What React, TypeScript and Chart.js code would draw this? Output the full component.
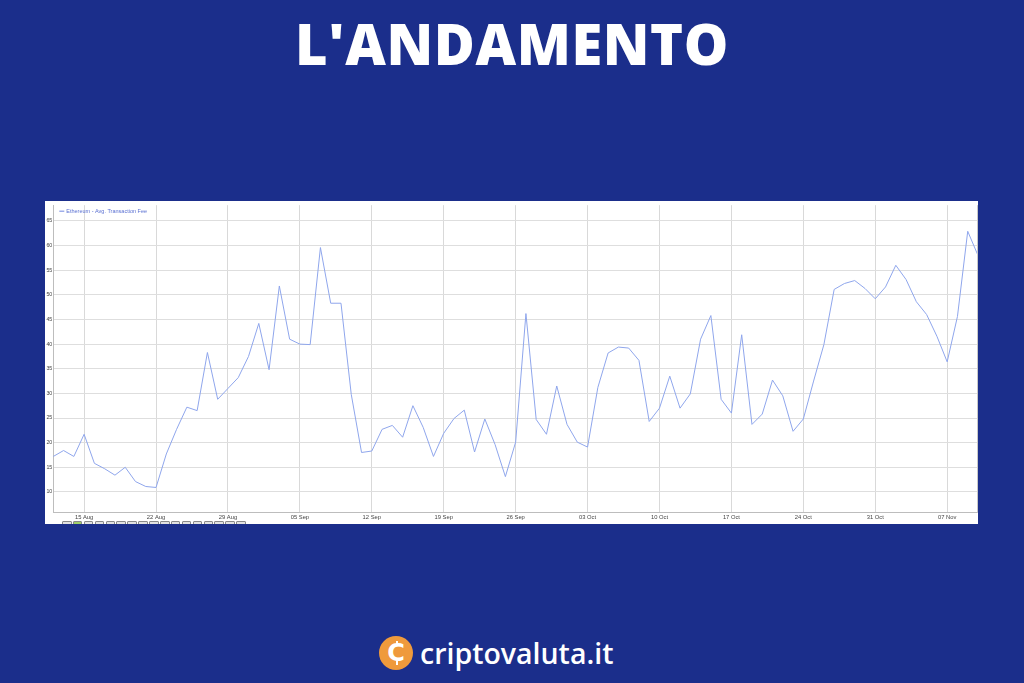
import React, { useEffect, useRef } from "react";
import { Chart, registerables } from "chart.js";

Chart.register(...registerables);

const categories: string[] = [
  "12 Aug","13 Aug","14 Aug","15 Aug","16 Aug","17 Aug","18 Aug","19 Aug","20 Aug","21 Aug",
  "22 Aug","23 Aug","24 Aug","25 Aug","26 Aug","27 Aug","28 Aug","29 Aug","30 Aug","31 Aug",
  "01 Sep","02 Sep","03 Sep","04 Sep","05 Sep","06 Sep","07 Sep","08 Sep","09 Sep","10 Sep",
  "11 Sep","12 Sep","13 Sep","14 Sep","15 Sep","16 Sep","17 Sep","18 Sep","19 Sep","20 Sep",
  "21 Sep","22 Sep","23 Sep","24 Sep","25 Sep","26 Sep","27 Sep","28 Sep","29 Sep","30 Sep",
  "01 Oct","02 Oct","03 Oct","04 Oct","05 Oct","06 Oct","07 Oct","08 Oct","09 Oct","10 Oct",
  "11 Oct","12 Oct","13 Oct","14 Oct","15 Oct","16 Oct","17 Oct","18 Oct","19 Oct","20 Oct",
  "21 Oct","22 Oct","23 Oct","24 Oct","25 Oct","26 Oct","27 Oct","28 Oct","29 Oct","30 Oct",
  "31 Oct","01 Nov","02 Nov","03 Nov","04 Nov","05 Nov","06 Nov","07 Nov","08 Nov","09 Nov",
  "10 Nov",
];

const avgFee: number[] = [
  17.2, 18.4, 17.2, 21.7, 15.8, 14.7, 13.4, 15.0, 12.1, 11.1,
  10.9, 17.7, 22.7, 27.2, 26.5, 38.3, 28.8, 31.0, 33.2, 37.5,
  44.2, 34.8, 51.8, 41.0, 40.0, 39.9, 59.6, 48.3, 48.3, 29.8,
  18.0, 18.3, 22.7, 23.5, 21.1, 27.5, 23.1, 17.2, 21.9, 24.9,
  26.6, 18.1, 24.8, 19.6, 13.1, 20.1, 46.2, 24.7, 21.7, 31.5,
  23.7, 20.1, 19.1, 31.2, 38.2, 39.4, 39.2, 36.7, 24.3, 27.0,
  33.5, 27.0, 29.9, 41.0, 45.8, 28.8, 26.0, 41.9, 23.7, 25.8,
  32.7, 29.5, 22.3, 24.8, 32.5, 39.9, 51.1, 52.3, 52.9, 51.3,
  49.2, 51.6, 56.0, 53.1, 48.6, 46.0, 41.6, 36.4, 45.6, 62.9,
  58.0,
];

const xTickLabels: string[] = [
  "15 Aug","22 Aug","29 Aug","05 Sep","12 Sep","19 Sep","26 Sep",
  "03 Oct","10 Oct","17 Oct","24 Oct","31 Oct","07 Nov",
];

const yTickValues: number[] = [10, 15, 20, 25, 30, 35, 40, 45, 50, 55, 60, 65];

const seriesName = "Ethereum - Avg. Transaction Fee";

const BG = "#1b2e8b";

export default function App() {
  const canvasRef = useRef<HTMLCanvasElement | null>(null);

  useEffect(() => {
    document.body.style.margin = "0";
    document.body.style.background = BG;
    const canvas = canvasRef.current;
    if (!canvas) return;

    const overlay = {
      id: "overlay",
      afterDraw(chart: any) {
        const { ctx, chartArea } = chart;
        ctx.save();
        ctx.strokeStyle = "#c8c8c8";
        ctx.lineWidth = 1;
        ctx.beginPath();
        ctx.moveTo(chartArea.right - 0.5, chartArea.top);
        ctx.lineTo(chartArea.right - 0.5, chartArea.bottom);
        ctx.stroke();
        const lx = chartArea.left + 6;
        const ly = chartArea.top + 6;
        ctx.strokeStyle = "#6f86e0";
        ctx.lineWidth = 1;
        ctx.beginPath();
        ctx.moveTo(lx, ly);
        ctx.lineTo(lx + 5, ly);
        ctx.stroke();
        ctx.fillStyle = "#5a70d2";
        ctx.font = "5.5px 'Liberation Sans', Arial, sans-serif";
        ctx.textBaseline = "middle";
        ctx.fillText(seriesName, lx + 7, ly);
        ctx.restore();
      },
    };

    const chart = new Chart(canvas, {
      type: "line",
      data: {
        labels: categories,
        datasets: [
          {
            label: seriesName,
            data: avgFee,
            borderColor: "#8fa6ec",
            borderWidth: 1,
            pointRadius: 0,
            tension: 0,
            fill: false,
          },
        ],
      },
      options: {
        animation: false,
        responsive: false,
        maintainAspectRatio: false,
        layout: { padding: { top: 1, right: 0, bottom: 0, left: 0 } },
        plugins: {
          legend: { display: false },
          tooltip: { enabled: false },
        },
        scales: {
          x: {
            type: "category",
            offset: false,
            afterBuildTicks: (scale: any) => {
              scale.ticks = scale.ticks.filter((t: any) =>
                xTickLabels.includes(categories[t.value])
              );
            },
            afterFit: (scale: any) => {
              scale.height = 11.3;
            },
            grid: {
              color: "#d9d9d9",
              lineWidth: 1,
              drawTicks: false,
            },
            border: { display: true, color: "#bdbdbd" },
            ticks: {
              autoSkip: false,
              maxRotation: 0,
              padding: 1,
              color: "#444",
              font: { size: 5.8, family: "'Liberation Sans', Arial, sans-serif" },
            },
          },
          y: {
            type: "linear",
            min: 5.78,
            max: 68.2,
            afterBuildTicks: (scale: any) => {
              scale.ticks = yTickValues.map((v) => ({ value: v }));
            },
            afterFit: (scale: any) => {
              scale.width = 8.3;
            },
            grid: {
              color: "#dedede",
              lineWidth: 1,
              drawTicks: false,
            },
            border: { display: true, color: "#bdbdbd" },
            ticks: {
              padding: 1,
              color: "#444",
              font: { size: 5.3, family: "'Liberation Sans', Arial, sans-serif" },
            },
          },
        },
      },
      plugins: [overlay],
    } as any);

    return () => chart.destroy();
  }, []);

  const boxes = Array.from({ length: 17 }, (_, i) => i);

  return (
    <div
      style={{
        position: "relative",
        width: 1024,
        height: 683,
        background: BG,
        overflow: "hidden",
        fontFamily: "'Open Sans', sans-serif",
      }}
    >
      <div
        style={{
          position: "absolute",
          left: 0,
          width: 1024,
          top: 6,
          textAlign: "center",
          color: "#fff",
          fontWeight: 800,
          fontSize: 56,
          lineHeight: "74px",
          letterSpacing: 0.6,
        }}
      >
        L'ANDAMENTO
      </div>

      <div
        style={{
          position: "absolute",
          left: 45,
          top: 201,
          width: 933,
          height: 323,
          background: "#fff",
          overflow: "hidden",
        }}
      >
        <canvas
          ref={canvasRef}
          width={933}
          height={323}
          style={{ position: "absolute", left: 0, top: 0, width: 933, height: 323 }}
        />
        <div style={{ position: "absolute", left: 17, top: 320, display: "flex", gap: 1.4 }}>
          {boxes.map((i) => (
            <div
              key={i}
              style={{
                width: 7.5,
                height: 6,
                border: "1px solid #8a8a8a",
                background: i === 1 ? "#9fcf6a" : "#e2e2e2",
                borderRadius: 1,
              }}
            />
          ))}
        </div>
      </div>

      <div
        style={{
          position: "absolute",
          left: 379,
          top: 636,
          width: 34,
          height: 34,
          borderRadius: "50%",
          background: "#ef9a3c",
        }}
      >
        <div
          style={{
            position: "absolute",
            left: 0,
            top: 0,
            width: 34,
            height: 34,
            lineHeight: "34px",
            textAlign: "center",
            color: "#fff",
            fontWeight: 700,
            fontSize: 24,
            fontFamily: "'DejaVu Sans', sans-serif",
          }}
        >
          C
        </div>
        <div style={{ position: "absolute", left: 17, top: 5, width: 2, height: 5, background: "#fff" }} />
        <div style={{ position: "absolute", left: 17, top: 24, width: 2, height: 5, background: "#fff" }} />
      </div>
      <div
        style={{
          position: "absolute",
          left: 420,
          top: 633,
          color: "#fff",
          fontWeight: 600,
          fontSize: 28.5,
          lineHeight: "40px",
          letterSpacing: 0,
          fontFamily: "'Open Sans', sans-serif",
        }}
      >
        criptovaluta.it
      </div>
    </div>
  );
}
